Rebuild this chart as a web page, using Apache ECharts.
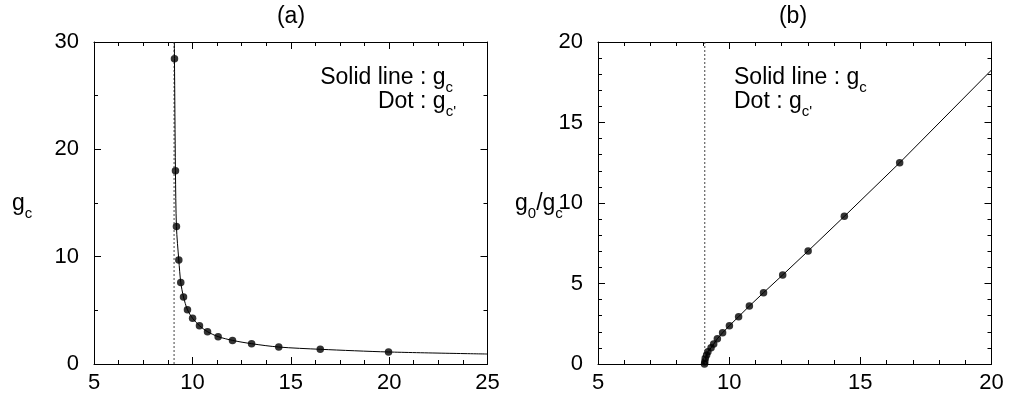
<!DOCTYPE html>
<html>
<head>
<meta charset="utf-8">
<script src="https://cdn.jsdelivr.net/npm/echarts@6/dist/echarts.min.js"></script>
<style>
html,body{margin:0;padding:0;background:#fff;}
#chart{width:1009px;height:400px;}
</style>
</head>
<body>
<div id="chart"></div>
<script>
// Panel (a): g_c versus x
const aLineX = [9.085, 9.09, 9.14, 9.19, 9.31, 9.41, 9.55, 9.75, 10.01, 10.36, 10.77, 11.31, 12.04, 13.01, 14.39, 16.5, 19.97, 25];
const aLineY = [30, 28.45, 18.0, 12.8, 9.69, 7.6, 6.24, 5.06, 4.26, 3.57, 3.01, 2.55, 2.2, 1.89, 1.58, 1.37, 1.12, 0.93];
const aDotX = [9.09, 9.14, 9.19, 9.31, 9.41, 9.55, 9.75, 10.01, 10.36, 10.77, 11.31, 12.04, 13.01, 14.39, 16.5, 19.97];
const aDotY = [28.45, 18.0, 12.8, 9.69, 7.6, 6.24, 5.06, 4.26, 3.57, 3.01, 2.55, 2.2, 1.89, 1.58, 1.37, 1.12];
// Panel (b): g0/g_c versus x
const bLineX = [9.06, 9.07, 9.09, 9.14, 9.19, 9.31, 9.41, 9.55, 9.75, 10.01, 10.36, 10.77, 11.31, 12.04, 13.01, 14.39, 16.5, 20];
const bLineY = [0.0, 0.14, 0.35, 0.56, 0.76, 1.01, 1.24, 1.57, 1.94, 2.38, 2.94, 3.6, 4.43, 5.53, 7.02, 9.17, 12.5, 18.26];
const bDotX = [9.06, 9.07, 9.09, 9.14, 9.19, 9.31, 9.41, 9.55, 9.75, 10.01, 10.36, 10.77, 11.31, 12.04, 13.01, 14.39, 16.5];
const bDotY = [0.0, 0.14, 0.35, 0.56, 0.76, 1.01, 1.24, 1.57, 1.94, 2.38, 2.94, 3.6, 4.43, 5.53, 7.02, 9.17, 12.5];
// Vertical dotted asymptote
const asymX = 9.07;
const aYRange = [0, 30];
const bYRange = [0, 20];
// Axis ranges
const aXRange = [5, 25], aXStep = 5, aYStep = 10;
const bXRange = [5, 20], bXStep = 5, bYStep = 5;

const zip = (xs, ys) => xs.map((x, i) => [x, ys[i]]);
const FONT = '"Liberation Sans", Arial, Helvetica, sans-serif';

function xAx(grid, range, step, minorSplit, pos, labels) {
  return {
    type: 'value', gridIndex: grid, position: pos, min: range[0], max: range[1], interval: step,
    axisLine: { show: true, onZero: false, lineStyle: { color: '#000', width: 1 } },
    axisTick: { show: true, inside: true, length: 7, lineStyle: { color: '#000' } },
    minorTick: { show: true, splitNumber: minorSplit, length: 4, lineStyle: { color: '#000' } },
    splitLine: { show: false },
    axisLabel: { show: labels, margin: 8, fontSize: 22, color: '#000', fontFamily: FONT, showMinLabel: true, showMaxLabel: true }
  };
}
function yAx(grid, range, step, minorSplit, pos, labels) {
  return {
    type: 'value', gridIndex: grid, position: pos, min: range[0], max: range[1], interval: step,
    axisLine: { show: true, onZero: false, lineStyle: { color: '#000', width: 1 } },
    axisTick: { show: true, inside: true, length: 7, lineStyle: { color: '#000' } },
    minorTick: { show: true, splitNumber: minorSplit, length: 4, lineStyle: { color: '#000' } },
    splitLine: { show: false },
    axisLabel: { show: labels, margin: 15, fontSize: 22, color: '#000', fontFamily: FONT, showMinLabel: true, showMaxLabel: true }
  };
}

const richStyle = {
  m: { fontSize: 23, lineHeight: 34, fontFamily: FONT, fill: '#000', color: '#000' },
  s: { fontSize: 15, lineHeight: 14, verticalAlign: 'bottom', fontFamily: FONT, fill: '#000', color: '#000' }
};
function txt(x, y, text, align) {
  return { type: 'text', x: x, y: y, style: { text: text, rich: richStyle, align: align, verticalAlign: 'top', font: '23px ' + FONT, fill: '#000' } };
}

const chart = echarts.init(document.getElementById('chart'));
chart.setOption({
  animation: false,
  backgroundColor: '#fff',
  grid: [
    { left: 94, top: 42, width: 393.5, height: 322 },
    { left: 598, top: 42, width: 393.5, height: 322 }
  ],
  xAxis: [
    xAx(0, aXRange, aXStep, 4, 'bottom', true),
    xAx(0, aXRange, aXStep, 4, 'top', false),
    xAx(1, bXRange, bXStep, 5, 'bottom', true),
    xAx(1, bXRange, bXStep, 5, 'top', false)
  ],
  yAxis: [
    yAx(0, aYRange, aYStep, 2, 'left', true),
    yAx(0, aYRange, aYStep, 2, 'right', false),
    yAx(1, bYRange, bYStep, 5, 'left', true),
    yAx(1, bYRange, bYStep, 5, 'right', false)
  ],
  series: [
    { type: 'line', xAxisIndex: 0, yAxisIndex: 0, data: [[asymX, aYRange[0]], [asymX, aYRange[1]]], showSymbol: false, lineStyle: { color: '#444', width: 1, type: [2, 2] } },
    { type: 'line', xAxisIndex: 0, yAxisIndex: 0, data: zip(aLineX, aLineY), showSymbol: false, smooth: 0.3, lineStyle: { color: '#000', width: 1 } },
    { type: 'scatter', xAxisIndex: 0, yAxisIndex: 0, data: zip(aDotX, aDotY), symbol: 'circle', symbolSize: 7.5, clip: false, itemStyle: { color: '#000' } },
    { type: 'line', xAxisIndex: 2, yAxisIndex: 2, data: [[asymX, bYRange[0]], [asymX, bYRange[1]]], showSymbol: false, lineStyle: { color: '#444', width: 1, type: [2, 2] } },
    { type: 'line', xAxisIndex: 2, yAxisIndex: 2, data: zip(bLineX, bLineY), showSymbol: false, smooth: false, lineStyle: { color: '#000', width: 1 } },
    { type: 'scatter', xAxisIndex: 2, yAxisIndex: 2, data: zip(bDotX, bDotY), symbol: 'circle', symbolSize: 7.5, clip: false, itemStyle: { color: '#000' } }
  ],
  graphic: [
    { type: 'text', x: 291, y: 17, style: { text: '(a)', font: '23px ' + FONT, fill: '#000', align: 'center', verticalAlign: 'middle' } },
    { type: 'text', x: 793, y: 17, style: { text: '(b)', font: '23px ' + FONT, fill: '#000', align: 'center', verticalAlign: 'middle' } },
    txt(453, 61, '{m|Solid line : g}{s|c}', 'right'),
    txt(456, 85, '{m|Dot : g}{s|c\'}', 'right'),
    txt(734, 61, '{m|Solid line : g}{s|c}', 'left'),
    txt(734, 85, '{m|Dot : g}{s|c\'}', 'left'),
    txt(12, 187, '{m|g}{s|c}', 'left'),
    txt(515, 187, '{m|g}{s|0}{m|/g}{s|c}', 'left')
  ]
});
</script>
</body>
</html>
